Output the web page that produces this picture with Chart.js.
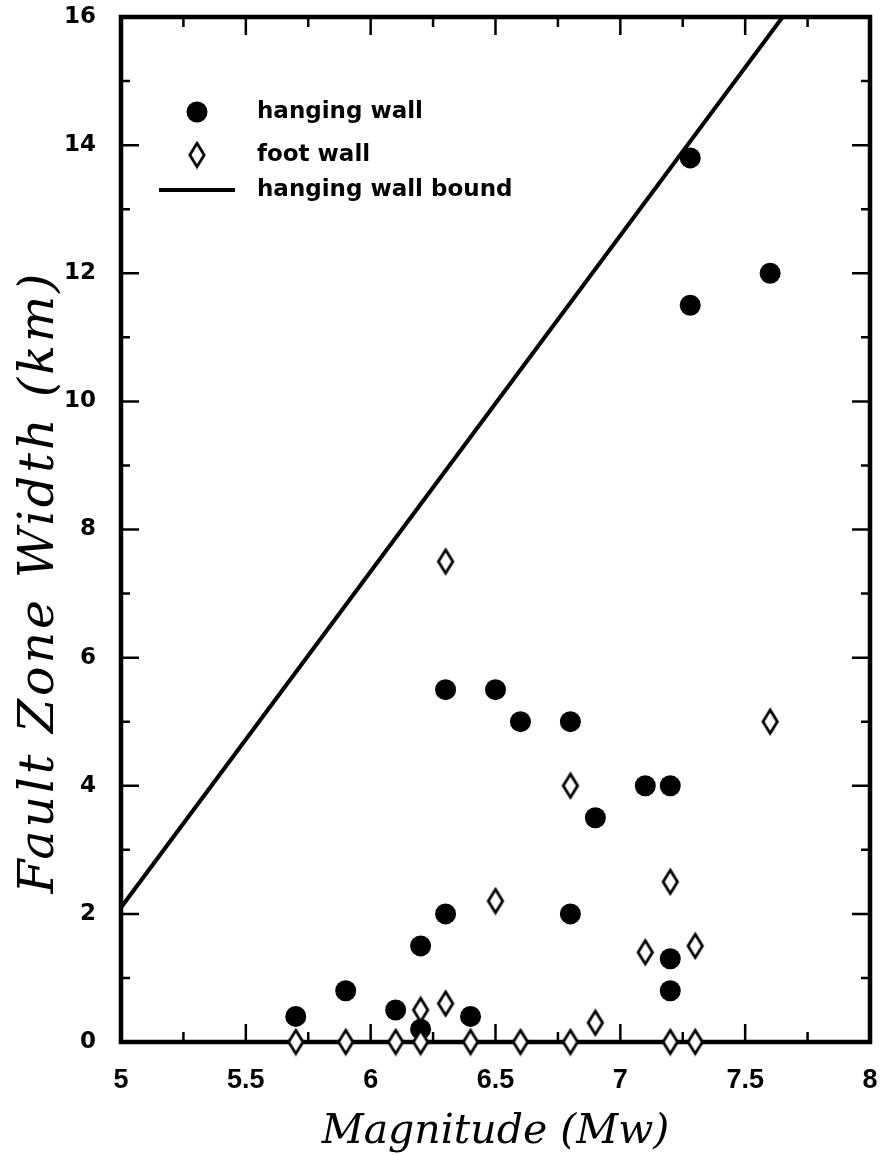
<!DOCTYPE html>
<html>
<head>
<meta charset="utf-8">
<script src="https://cdn.jsdelivr.net/npm/chart.js@4.4.1/dist/chart.umd.min.js"></script>
<style>
  html, body { margin:0; padding:0; background:#fff; }
  #wrap { width:881px; height:1155px; }
</style>
</head>
<body>
<div id="wrap"><canvas id="c" width="881" height="1155"></canvas></div>
<script>
// ── data ──
const hangX = [5.7, 5.9, 6.1, 6.2, 6.2, 6.3, 6.3, 6.4, 6.5, 6.6, 6.8, 6.8, 6.9, 7.1, 7.2, 7.2, 7.2, 7.28, 7.28, 7.6];
const hangY = [0.4, 0.8, 0.5, 0.2, 1.5, 2.0, 5.5, 0.4, 5.5, 5.0, 5.0, 2.0, 3.5, 4.0, 4.0, 1.3, 0.8, 13.8, 11.5, 12.0];

const footX = [5.7, 5.9, 6.1, 6.2, 6.4, 6.6, 6.8, 7.2, 7.3, 6.2, 6.3, 6.9, 7.1, 7.3, 6.5, 7.2, 6.8, 6.3, 7.6];
const footY = [0,   0,   0,   0,   0,   0,   0,   0,   0,   0.5, 0.6, 0.3, 1.4, 1.5, 2.2, 2.5, 4.0, 7.5, 5.0];

const boundX = [5, 7.65];
const boundY = [2.1, 16];

const xTicks = [5, 5.5, 6, 6.5, 7, 7.5, 8];
const xMinor = [5.25, 5.75, 6.25, 6.75, 7.25, 7.75];
const yTicks = [0, 2, 4, 6, 8, 10, 12, 14, 16];
const yMinor = [1, 3, 5, 7, 9, 11, 13, 15];

const legendLabels = ['hanging wall', 'foot wall', 'hanging wall bound'];
const yTitle = 'Fault Zone Width (km)';

const INK = '#000';

// tall narrow open diamond used as point style
function diamond(w, h, lw) {
  const c = document.createElement('canvas');
  c.width = w + lw * 2; c.height = h + lw * 2;
  const g = c.getContext('2d');
  g.beginPath();
  g.moveTo(c.width / 2, lw);
  g.lineTo(c.width - lw, c.height / 2);
  g.lineTo(c.width / 2, c.height - lw);
  g.lineTo(lw, c.height / 2);
  g.closePath();
  g.fillStyle = '#fff'; g.fill();
  g.lineWidth = lw; g.strokeStyle = INK; g.lineJoin = 'miter'; g.stroke();
  return c;
}
const DIA = diamond(15, 24, 2.8);

// frame, inward ticks, legend and y title
const framePlugin = {
  id: 'frame',
  beforeDatasetsDraw(chart) {
    const { ctx, chartArea: a, scales: { x, y } } = chart;
    ctx.save();
    ctx.strokeStyle = INK;
    ctx.lineWidth = 2.5;
    const tick = (v, len, axis) => {
      if (axis === 'x') {
        const p = x.getPixelForValue(v);
        ctx.beginPath(); ctx.moveTo(p, a.bottom); ctx.lineTo(p, a.bottom - len);
        ctx.moveTo(p, a.top); ctx.lineTo(p, a.top + len); ctx.stroke();
      } else {
        const p = y.getPixelForValue(v);
        ctx.beginPath(); ctx.moveTo(a.left, p); ctx.lineTo(a.left + len, p);
        ctx.moveTo(a.right, p); ctx.lineTo(a.right - len, p); ctx.stroke();
      }
    };
    xTicks.forEach(v => tick(v, 18, 'x'));
    xMinor.forEach(v => tick(v, 10, 'x'));
    yTicks.forEach(v => tick(v, 18, 'y'));
    yMinor.forEach(v => tick(v, 9, 'y'));
    ctx.lineWidth = 4.5;
    ctx.lineJoin = 'miter';
    ctx.strokeRect(a.left, a.top, a.right - a.left, a.bottom - a.top);
    ctx.restore();
  },
  afterDraw(chart) {
    const { ctx, chartArea: a } = chart;
    const lx = a.left + 76, tx = a.left + 136;
    const rows = [a.top + 95, a.top + 138, a.top + 173];
    ctx.save();
    ctx.fillStyle = INK;
    ctx.beginPath(); ctx.arc(lx, rows[0], 10.5, 0, Math.PI * 2); ctx.fill();
    ctx.drawImage(DIA, lx - DIA.width / 2, rows[1] - DIA.height / 2);
    ctx.lineWidth = 4; ctx.strokeStyle = INK;
    ctx.beginPath(); ctx.moveTo(lx - 38, rows[2]); ctx.lineTo(lx + 38, rows[2]); ctx.stroke();
    ctx.font = 'bold 23px "DejaVu Sans"';
    ctx.textBaseline = 'middle';
    legendLabels.forEach((t, i) => ctx.fillText(t, tx, rows[i]));
    // y axis title
    ctx.translate(40, 582);
    ctx.rotate(-Math.PI / 2);
    ctx.font = 'italic 49px "DejaVu Serif"';
    ctx.letterSpacing = '3px';
    ctx.textAlign = 'center';
    ctx.fillText(yTitle, 0, 0);
    ctx.restore();
  }
};

new Chart(document.getElementById('c'), {
  type: 'scatter',
  data: {
    datasets: [
      { label: legendLabels[2], type: 'line',
        data: boundX.map((v, i) => ({ x: v, y: boundY[i] })),
        borderColor: INK, borderWidth: 4, pointRadius: 0, fill: false },
      { label: legendLabels[1],
        data: footX.map((v, i) => ({ x: v, y: footY[i] })),
        pointStyle: DIA, clip: false },
      { label: legendLabels[0],
        data: hangX.map((v, i) => ({ x: v, y: hangY[i] })),
        pointStyle: 'circle', pointRadius: 10.5, backgroundColor: INK, borderColor: INK, borderWidth: 0, clip: false }
    ]
  },
  options: {
    responsive: false,
    animation: false,
    layout: { padding: { top: 17, right: 11, left: 0, bottom: 0 } },
    plugins: { legend: { display: false }, tooltip: { enabled: false } },
    scales: {
      x: {
        type: 'linear', min: 5, max: 8,
        afterBuildTicks: s => { s.ticks = xTicks.map(v => ({ value: v })); },
        afterFit: s => { s.height = 113; s.paddingLeft = 0; s.paddingRight = 0; },
        grid: { display: false }, border: { display: false },
        ticks: { color: INK, padding: 14, maxRotation: 0, callback: v => String(v),
          font: { family: 'Liberation Sans Narrow, Liberation Sans', weight: 'bold', size: 27 } },
        title: { display: true, text: 'Magnitude (Mw)', color: INK,
          font: { family: 'DejaVu Serif', style: 'italic', size: 41, lineHeight: 1 }, padding: { top: 0, bottom: 2 } }
      },
      y: {
        type: 'linear', min: 0, max: 16,
        afterBuildTicks: s => { s.ticks = yTicks.map(v => ({ value: v })); },
        afterFit: s => { s.width = 121; s.paddingTop = 0; s.paddingBottom = 0; },
        grid: { display: false }, border: { display: false },
        ticks: { color: INK, padding: 17, font: { family: 'DejaVu Sans', weight: 'bold', size: 23 } },
        title: { display: false }
      }
    }
  },
  plugins: [framePlugin]
});
</script>
</body>
</html>
